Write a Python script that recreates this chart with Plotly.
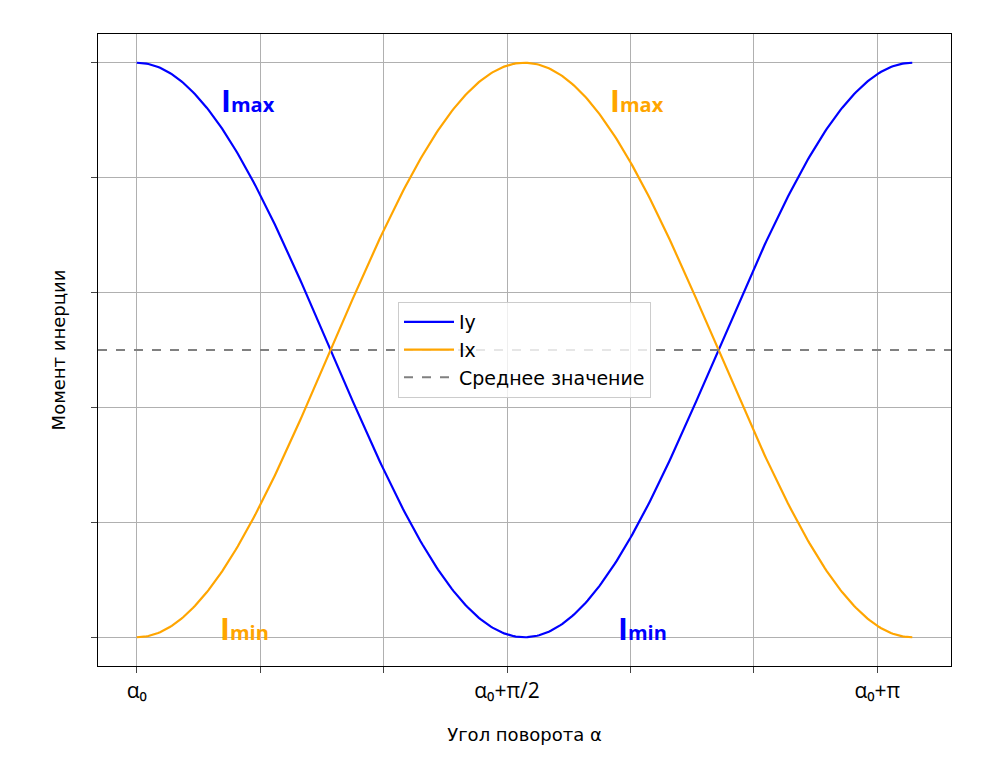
import numpy as np
import plotly.graph_objects as go

x = np.linspace(0, 2*np.pi, 400)
iy = np.cos(x)
ix = -np.cos(x)
mean_val = 0.0
xticks = [0, 1, 2, 3, 4, 5, 6]
xlabels = ["α₀", "", "", "α₀+π/2", "", "", "α₀+π"]
yticks = [-1, -0.6, -0.2, 0.2, 0.6, 1]
xr = [-0.314, 6.597]
yr = [-1.1, 1.1]

fig = go.Figure()
fig.add_trace(go.Scatter(x=x, y=iy, mode="lines", name="Iy", line=dict(color="blue", width=2.2)))
fig.add_trace(go.Scatter(x=x, y=ix, mode="lines", name="Ix", line=dict(color="orange", width=2.2)))
fig.add_trace(go.Scatter(x=xr, y=[mean_val, mean_val], mode="lines", name="Среднее значение",
                         line=dict(color="gray", width=2, dash="dash")))

anns = []
for xv, yv, col, sub in [(0.9, 0.87, "blue", "max"), (4.05, 0.87, "orange", "max"),
                         (0.87, -0.97, "orange", "min"), (4.1, -0.97, "blue", "min")]:
    anns.append(dict(x=xv, y=yv, xref="x", yref="y", showarrow=False,
                     text=f"<b>I</b><b><span style='font-size:20px'>{sub}</span></b>",
                     font=dict(color=col, size=30, family="Open Sans")))

fig.update_layout(
    width=1002, height=773, paper_bgcolor="white", plot_bgcolor="white",
    margin=dict(l=90, r=59, t=26, b=115),
    font=dict(family="DejaVu Sans", color="black"),
    showlegend=True,
    legend=dict(x=0.5, y=0.5, xanchor="center", yanchor="middle", bgcolor="rgba(255,255,255,0.8)",
                bordercolor="#cccccc", borderwidth=1, font=dict(size=19), tracegroupgap=10,
                itemwidth=50),
    annotations=anns,
)
fig.update_xaxes(range=xr, tickvals=xticks, ticktext=xlabels, showgrid=True, gridcolor="#b0b0b0",
                 ticks="outside", ticklen=6, showline=True, linecolor="black", mirror=True, zeroline=False,
                 tickfont=dict(size=21, family="Open Sans"),
                 title=dict(text="Угол поворота α", font=dict(size=18), standoff=25))
fig.update_yaxes(range=yr, tickvals=yticks, showticklabels=False, showgrid=True, gridcolor="#b0b0b0",
                 ticks="outside", ticklen=6, showline=True, linecolor="black", mirror=True, zeroline=False,
                 title=dict(text="Момент инерции", font=dict(size=18), standoff=20))
fig.write_html("out.html")
